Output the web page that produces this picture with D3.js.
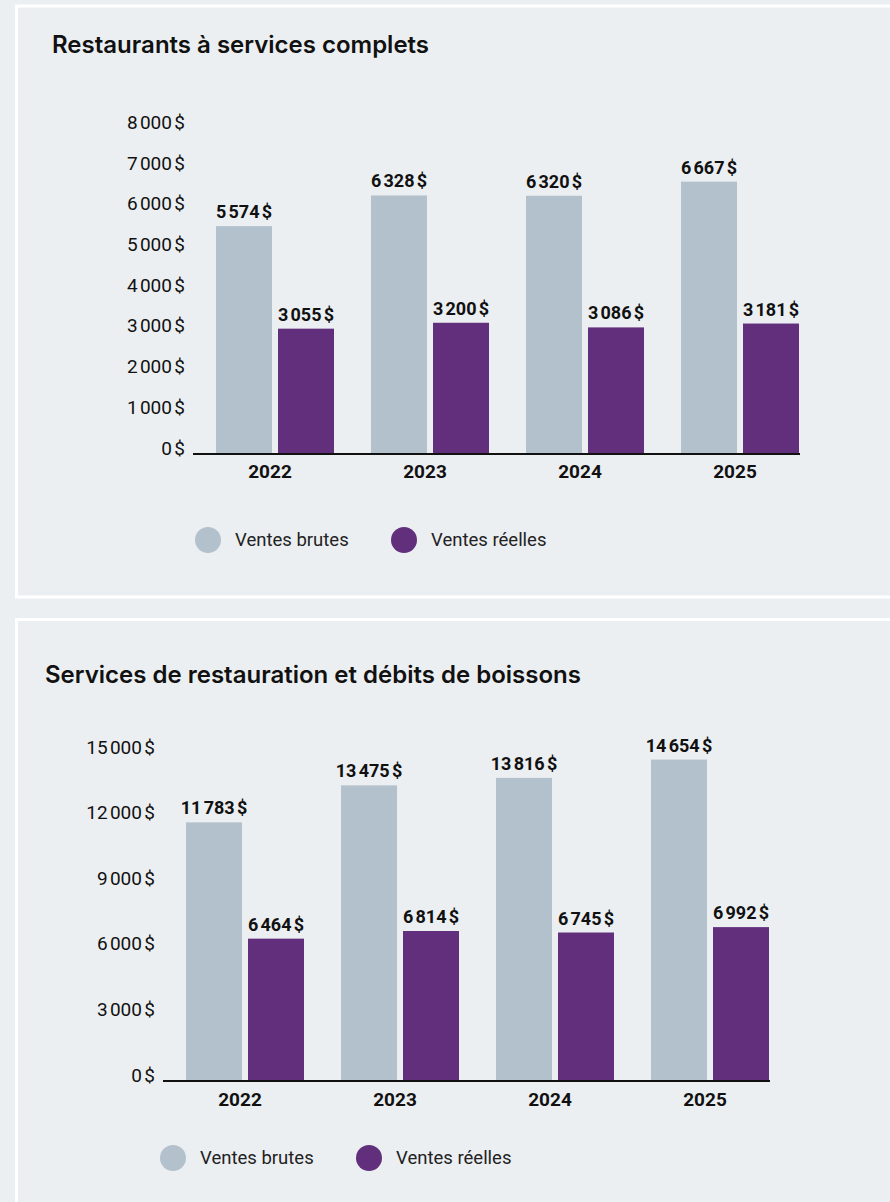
<!DOCTYPE html>
<html>
<head>
<meta charset="utf-8">
<script src="https://cdn.jsdelivr.net/npm/d3@7"></script>
<style>
  html, body { margin: 0; padding: 0; background: #eceff2; }
  svg { display: block; }
</style>
</head>
<body>
<div id="chart"></div>
<script>
// Données
const years = ['2022', '2023', '2024', '2025'];
const seriesNames = ['Ventes brutes', 'Ventes réelles'];
const seriesColors = ['#b3c1cc', '#612f7b'];

const titleTop = 'Restaurants à services complets';
const brutesTop = [5574, 6328, 6320, 6667];
const reellesTop = [3055, 3200, 3086, 3181];
const ticksTop = [0, 1000, 2000, 3000, 4000, 5000, 6000, 7000, 8000];

const titleBottom = 'Services de restauration et débits de boissons';
const brutesBottom = [11783, 13475, 13816, 14654];
const reellesBottom = [6464, 6814, 6745, 6992];
const ticksBottom = [0, 3000, 6000, 9000, 12000, 15000];

const W = 890, H = 1202;

const locale = d3.formatLocale({ decimal: ',', thousands: '\u202f', grouping: [3], currency: ['', ''] });
const fmt = v => locale.format(',d')(v) + '\u202f$';

const svg = d3.select('#chart').append('svg')
  .attr('width', W)
  .attr('height', H);

svg.append('rect').attr('width', W).attr('height', H).attr('fill', '#eceff2');

function drawPanel(p) {
  // Cadre
  svg.append('rect')
    .attr('x', 16.5).attr('y', p.boxY)
    .attr('width', 900).attr('height', p.boxH)
    .attr('fill', '#eceff2')
    .attr('stroke', '#ffffff')
    .attr('stroke-width', 3);

  // Titre
  svg.append('text')
    .attr('x', p.titleX).attr('y', p.titleY)
    .attr('font-family', 'Inter, sans-serif')
    .attr('font-weight', 600)
    .attr('font-size', p.titleSize)
    .attr('fill', '#111')
    .text(p.title);

  // Échelles
  const y = d3.scaleLinear().domain([0, d3.max(p.ticks)]).range([p.y0, p.yTop]);
  const x0 = d3.scaleBand().domain(years).range([p.xStart, p.xStart + 155 * years.length]).padding(0);
  const x1 = d3.scaleBand().domain([0, 1]).range([0, 118]).paddingInner(6 / 62).paddingOuter(0);

  // Axe Y
  const yAxis = svg.append('g')
    .attr('transform', `translate(${p.yLabelX},0)`)
    .call(d3.axisLeft(y).tickValues(p.ticks).tickSize(0).tickPadding(0).tickFormat(fmt));
  yAxis.select('.domain').remove();
  yAxis.selectAll('text')
    .attr('dy', null)
    .attr('y', -4)
    .attr('dominant-baseline', 'middle')
    .attr('font-family', 'Roboto, sans-serif')
    .attr('font-weight', 400)
    .attr('font-size', 19)
    .attr('letter-spacing', '-0.7px')
    .attr('fill', '#111');

  // Barres
  const data = years.map((yr, i) => ({ year: yr, values: [p.brutes[i], p.reelles[i]] }));
  const groups = svg.selectAll(null)
    .data(data)
    .enter().append('g')
    .attr('transform', d => `translate(${x0(d.year)},0)`);

  groups.selectAll('rect')
    .data(d => d.values.map((v, k) => ({ k, v })))
    .enter().append('rect')
    .attr('x', d => x1(d.k))
    .attr('y', d => y(d.v))
    .attr('width', x1.bandwidth())
    .attr('height', d => p.y0 - y(d.v))
    .attr('fill', d => seriesColors[d.k]);

  groups.selectAll('text.val')
    .data(d => d.values.map((v, k) => ({ k, v })))
    .enter().append('text')
    .attr('class', 'val')
    .attr('x', d => x1(d.k) + x1.bandwidth() / 2)
    .attr('y', d => y(d.v) - 8)
    .attr('text-anchor', 'middle')
    .attr('font-family', 'Roboto, sans-serif')
    .attr('font-weight', 700)
    .attr('font-size', 18)
    .attr('letter-spacing', '-0.9px')
    .attr('fill', '#111')
    .text(d => fmt(d.v));

  // Ligne de base
  svg.append('line')
    .attr('x1', p.xStart - 23)
    .attr('x2', x0(years[years.length - 1]) + 119)
    .attr('y1', p.y0 + 1).attr('y2', p.y0 + 1)
    .attr('stroke', '#111')
    .attr('stroke-width', 2);

  // Années
  svg.selectAll(null)
    .data(years)
    .enter().append('text')
    .attr('x', d => x0(d) + 54)
    .attr('y', p.yearY)
    .attr('text-anchor', 'middle')
    .attr('font-family', 'Roboto, sans-serif')
    .attr('font-weight', 700)
    .attr('font-size', 19)
    .attr('fill', '#111')
    .text(d => d);

  // Légende
  const leg = svg.selectAll(null)
    .data(seriesNames)
    .enter().append('g')
    .attr('transform', (d, i) => `translate(${p.legX + i * 196},${p.legY})`);
  leg.append('circle').attr('r', 13).attr('fill', (d, i) => seriesColors[i]);
  leg.append('text')
    .attr('x', 27)
    .attr('dy', '0.35em')
    .attr('font-family', 'Roboto, sans-serif')
    .attr('font-size', 18.5)
    .attr('fill', '#222')
    .text(d => d);
}

drawPanel({
  boxY: 6, boxH: 591,
  title: titleTop, titleX: 52, titleY: 53, titleSize: 24,
  brutes: brutesTop, reelles: reellesTop, ticks: ticksTop,
  y0: 453, yTop: 127.4, yLabelX: 185,
  xStart: 216, yearY: 478,
  legX: 208, legY: 540
});

drawPanel({
  boxY: 619.5, boxH: 700,
  title: titleBottom, titleX: 45, titleY: 683, titleSize: 24,
  brutes: brutesBottom, reelles: reellesBottom, ticks: ticksBottom,
  y0: 1080, yTop: 752, yLabelX: 155,
  xStart: 186, yearY: 1106,
  legX: 173, legY: 1158
});
</script>
</body>
</html>
